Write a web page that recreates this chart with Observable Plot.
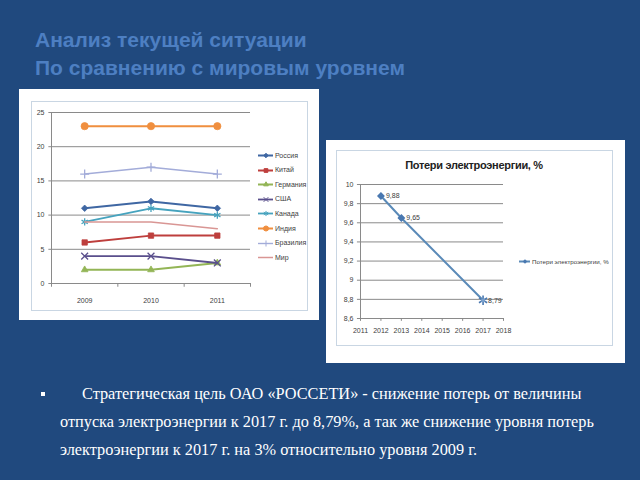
<!DOCTYPE html>
<html><head><meta charset="utf-8">
<script src="https://cdn.jsdelivr.net/npm/d3@7"></script>
<script src="https://cdn.jsdelivr.net/npm/@observablehq/plot@0.6"></script>
<style>
html,body{margin:0;padding:0;}
body{width:640px;height:480px;background:#20497e;position:relative;overflow:hidden;font-family:"Liberation Sans",Arial,sans-serif;}
.abs{position:absolute;}
.title{left:35px;color:#4d7fc2;font-weight:bold;font-size:21px;white-space:nowrap;line-height:24px;}
.box{background:#fff;}
.frame{border:1px solid #c9d6e3;box-sizing:border-box;}
.leg{font-family:"Liberation Sans",Arial,sans-serif;font-size:7px;color:#404040;}
.legrow{position:absolute;display:flex;align-items:center;white-space:nowrap;}
.body{font-family:"Liberation Serif","Times New Roman",serif;color:#fff;font-size:16.3px;white-space:nowrap;line-height:20px;}
</style></head><body>
<div class="abs title" style="top:28px">Анализ текущей ситуации</div>
<div class="abs title" style="top:56px">По сравнению с мировым уровнем</div>

<div class="abs box" style="left:19px;top:89px;width:300px;height:231px"></div>
<div class="abs frame" style="left:31px;top:101px;width:277px;height:210px"></div>
<div class="abs" id="c1" style="left:31px;top:101px"></div>
<div class="abs leg" id="leg1" style="left:258px;top:101px;width:50px;height:200px"></div>

<div class="abs box" style="left:326px;top:140px;width:299px;height:223px"></div>
<div class="abs frame" style="left:336px;top:150px;width:277px;height:196px"></div>
<div class="abs" id="c2" style="left:336px;top:150px"></div>
<div class="abs" style="left:336px;top:159px;width:276px;text-align:center;font-family:'Liberation Sans',Arial,sans-serif;font-weight:bold;font-size:11px;letter-spacing:-0.3px;color:#222">Потери электроэнергии, %</div>
<div class="abs leg" id="leg2" style="left:519px;top:256px;font-size:6.2px"></div>

<div class="abs" style="left:41px;top:392px;width:4px;height:4px;background:#fff"></div>
<div class="abs body" style="left:82px;top:384px">Стратегическая цель ОАО «РОССЕТИ» - снижение потерь от величины</div>
<div class="abs body" style="left:60px;top:412px">отпуска электроэнергии к 2017 г. до 8,79%, а так же снижение уровня потерь</div>
<div class="abs body" style="left:60px;top:440px">электроэнергии к 2017 г. на 3% относительно уровня 2009 г.</div>

<script>
// ---- Left chart data ----
const years1 = [2009, 2010, 2011];
const countries = ["Россия","Китай","Германия","США","Канада","Индия","Бразилия","Мир"];
const russia  = [11, 12, 11];
const china   = [6, 7, 7];
const germany = [2, 2, 3];
const usa     = [4, 4, 3];
const canada  = [9, 11, 10];
const india   = [23, 23, 23];
const brazil  = [16, 17, 16];
const world   = [9, 9, 8];
const yTicks1 = [0, 5, 10, 15, 20, 25];

// ---- Right chart data ----
const years2 = [2012, 2013, 2017];
const losses = [9.88, 9.65, 8.79];
const xTicks2 = [2011, 2012, 2013, 2014, 2015, 2016, 2017, 2018];
const yTicks2 = [8.6, 8.8, 9, 9.2, 9.4, 9.6, 9.8, 10];
const seriesName2 = "Потери электроэнергии, %";

const seriesValues = [russia, china, germany, usa, canada, india, brazil, world];
const styles = [
  {color:"#3f67a3", symbol:"diamond2", r:2.9, sw:2, fill:true},
  {color:"#be3f3d", symbol:"square2", r:3.4, sw:2, fill:true},
  {color:"#93b556", symbol:"triangle2", r:3.2, sw:2, fill:true},
  {color:"#5a4f8c", symbol:"times", r:3.2, sw:1.8, fill:false},
  {color:"#46a3be", symbol:"asterisk", r:3.4, sw:1.8, fill:false},
  {color:"#f08f3f", symbol:"circle", r:3.6, sw:2, fill:true},
  {color:"#a3acd9", symbol:"plus", r:3, sw:1.4, fill:false},
  {color:"#d99694", symbol:null, r:0, sw:1.5, fill:false}
];

const rows1 = [];
countries.forEach((c, i) => years1.forEach((y, j) => rows1.push({country:c, year:y, value:seriesValues[i][j], idx:i})));
const bounds = years1.map(y => y - 0.5).concat([years1[years1.length-1] + 0.5]);

const marks1 = [
  Plot.ruleY(yTicks1, {stroke:"#8a8a8a", strokeWidth:1}),
  Plot.ruleX([bounds[0]], {y1:0, y2:yTicks1[yTicks1.length-1], stroke:"#8a8a8a"}),
  Plot.ruleX(bounds, {y1:0, y2:-0.55, stroke:"#8a8a8a"}),
  Plot.ruleY(yTicks1, {x1:bounds[0], x2:bounds[0]-0.04, stroke:"#8a8a8a"}),
  Plot.text(yTicks1, {x:bounds[0], y:d=>d, text:d=>String(d), textAnchor:"end", dx:-7, fontSize:7, fill:"#404040"}),
  Plot.text(years1, {x:d=>d, y:0, text:d=>String(d), dy:17, fontSize:7, fill:"#404040"})
];
countries.forEach((c, i) => {
  const s = styles[i];
  const data = rows1.filter(d => d.idx === i);
  marks1.push(Plot.line(data, {x:"year", y:"value", stroke:s.color, strokeWidth:s.sw}));
  if (s.symbol) marks1.push(Plot.dot(data, {x:"year", y:"value", symbol:()=>s.symbol, r:s.r,
    fill:s.fill ? s.color : "none", stroke:s.color, strokeWidth:s.fill?0.8:1.3}));
});

const chart1 = Plot.plot({
  width:277, height:210,
  marginLeft:20, marginRight:58, marginTop:11, marginBottom:28,
  x:{domain:[bounds[0], bounds[bounds.length-1]], axis:null},
  y:{domain:[0, 25], axis:null},
  symbol:{type:"identity"},
  style:{background:"transparent", fontFamily:"Liberation Sans, Arial, sans-serif", overflow:"visible"},
  marks:marks1
});
document.getElementById("c1").appendChild(chart1);

// legend 1 (HTML with Plot-drawn swatches)
const leg1 = document.getElementById("leg1");
countries.forEach((c, i) => {
  const s = styles[i];
  const sw = Plot.plot({
    width:15, height:10, margin:0, x:{domain:[0,1], axis:null}, y:{domain:[0,1], axis:null},
    symbol:{type:"identity"},
    style:{background:"transparent", overflow:"visible"},
    marks:[
      Plot.ruleY([0.5], {x1:0, x2:1, stroke:s.color, strokeWidth:s.sw}),
      s.symbol ? Plot.dot([0.5], {x:0.5, y:0.5, symbol:()=>s.symbol, r:s.r*0.7, fill:s.fill?s.color:"none", stroke:s.color, strokeWidth:1}) : null
    ]
  });
  const row = document.createElement("div");
  row.className = "legrow";
  row.style.top = (49 + i * 14.6) + "px";
  row.appendChild(sw);
  const t = document.createElement("span");
  t.textContent = c; t.style.marginLeft = "2px";
  row.appendChild(t);
  leg1.appendChild(row);
});

// ---- Right chart ----
const rows2 = years2.map((y, i) => ({year:y, value:losses[i]}));
const fmt = v => String(+v.toFixed(2)).replace(".", ",");
const lineColor = "#5a8ab8";
const chart2 = Plot.plot({
  width:277, height:196,
  marginLeft:24, marginRight:110, marginTop:34, marginBottom:28,
  x:{domain:[xTicks2[0], xTicks2[xTicks2.length-1]], axis:null},
  y:{domain:[yTicks2[0], yTicks2[yTicks2.length-1]], axis:null},
  style:{background:"transparent", fontFamily:"Liberation Sans, Arial, sans-serif", overflow:"visible"},
  marks:[
    Plot.ruleY(yTicks2, {stroke:"#8a8a8a", strokeWidth:1}),
    Plot.ruleX([xTicks2[0]], {y1:yTicks2[0], y2:yTicks2[yTicks2.length-1], stroke:"#8a8a8a"}),
    Plot.ruleX(xTicks2, {y1:yTicks2[0], y2:yTicks2[0]-0.03, stroke:"#8a8a8a"}),
    Plot.ruleY(yTicks2, {x1:xTicks2[0], x2:xTicks2[0]-0.15, stroke:"#8a8a8a"}),
    Plot.text(yTicks2, {x:xTicks2[0], y:d=>d, text:fmt, textAnchor:"end", dx:-7, fontSize:7, fill:"#404040"}),
    Plot.text(xTicks2, {x:d=>d, y:yTicks2[0], text:d=>String(d), dy:12, fontSize:7, fill:"#404040"}),
    Plot.line(rows2, {x:"year", y:"value", stroke:lineColor, strokeWidth:2}),
    Plot.dot(rows2.slice(0, -1), {x:"year", y:"value", symbol:"diamond2", r:2.6, fill:"#4a78b0", stroke:"#4a78b0"}),
    Plot.dot(rows2.slice(-1), {x:"year", y:"value", symbol:"asterisk", r:4.5, stroke:"#4a78b0", strokeWidth:1.6}),
    Plot.dot(rows2.slice(-1), {x:"year", y:"value", symbol:"square2", r:2.2, fill:"#7aa0cc"}),
    Plot.text(rows2, {x:"year", y:"value", text:d=>fmt(d.value), textAnchor:"start", dx:5, fontSize:7, fill:"#404040"})
  ]
});
document.getElementById("c2").appendChild(chart2);

const leg2 = document.getElementById("leg2");
const sw2 = Plot.plot({
  width:11, height:10, margin:0, x:{domain:[0,1], axis:null}, y:{domain:[0,1], axis:null},
  style:{background:"transparent", overflow:"visible"},
  marks:[
    Plot.ruleY([0.5], {x1:0, x2:1, stroke:lineColor, strokeWidth:2}),
    Plot.dot([0.5], {x:0.5, y:0.5, symbol:"diamond2", r:2.1, fill:"#4a78b0"})
  ]
});
const r2 = document.createElement("div");
r2.className = "legrow"; r2.style.top = "0px";
r2.appendChild(sw2);
const t2 = document.createElement("span"); t2.textContent = seriesName2; t2.style.marginLeft = "2px";
r2.appendChild(t2);
leg2.appendChild(r2);
</script>
</body></html>
